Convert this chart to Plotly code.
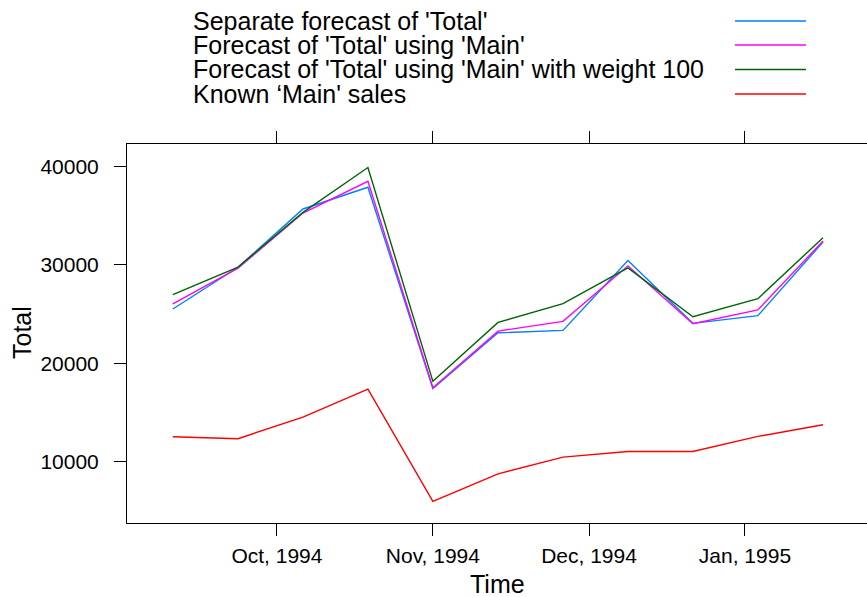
import plotly.graph_objects as go

# Time in decimal years (R ts style)
time = [1994.6944, 1994.7292, 1994.7639, 1994.7986, 1994.8333, 1994.8681,
        1994.9028, 1994.9375, 1994.9722, 1995.0069, 1995.0417]

separate = [25510, 29750, 35680, 37890, 17420, 23090, 23330, 30440, 24050, 24830, 32320]
using_main = [26020, 29660, 35270, 38500, 17500, 23260, 24250, 29900, 24010, 25410, 32420]
weight100 = [26970, 29770, 35340, 39900, 18150, 24150, 26050, 29690, 24720, 26560, 32760]
known_main = [12520, 12320, 14520, 17350, 5950, 8740, 10440, 11020, 11020, 12550, 13740]

series_names = ["Separate forecast of 'Total'",
                "Forecast of 'Total' using 'Main'",
                "Forecast of 'Total' using 'Main' with weight 100",
                "Known \u2018Main' sales"]
series_colors = ["#0080ff", "#ff00ff", "#006400", "#ff0000"]
series_values = [separate, using_main, weight100, known_main]

tick_vals = [1994.75, 1994.8333, 1994.9167, 1995.0]
tick_text = ["Oct, 1994", "Nov, 1994", "Dec, 1994", "Jan, 1995"]
y_tick_vals = [10000, 20000, 30000, 40000]
y_tick_text = ["10000", "20000", "30000", "40000"]

W, H = 867, 597
L, R, T, B = 127, 0, 144, 74
pw = W - L - R
ph = H - T - B

def px_x(x):
    return (x - L) / pw

def px_y(y):
    return (H - B - y) / ph

FONT = "Liberation Sans, Arial, sans-serif"

fig = go.Figure()
for name, col, vals in zip(series_names, series_colors, series_values):
    fig.add_trace(go.Scatter(x=time, y=vals, mode="lines", name=name,
                             line=dict(color=col, width=1.4), showlegend=False))

# Legend: text left, line key right (lattice style)
row_y = [21, 45, 69.5, 94]
for name, col, yy in zip(series_names, series_colors, row_y):
    fig.add_annotation(x=px_x(191), y=px_y(yy), xref="paper", yref="paper",
                       text=name, showarrow=False, xanchor="left", yanchor="middle",
                       font=dict(family=FONT, size=25, color="black"))
    fig.add_shape(type="line", xref="paper", yref="paper",
                  x0=px_x(735), x1=px_x(806), y0=px_y(yy), y1=px_y(yy),
                  line=dict(color=col, width=1.4))

# Axis titles
fig.add_annotation(x=px_x(497), y=px_y(584), xref="paper", yref="paper",
                   text="Time", showarrow=False, xanchor="center", yanchor="middle",
                   font=dict(family=FONT, size=25, color="black"))
fig.add_annotation(x=px_x(22), y=px_y(333), xref="paper", yref="paper",
                   text="Total", showarrow=False, xanchor="center", yanchor="middle",
                   textangle=-90,
                   font=dict(family=FONT, size=25, color="black"))

fig.update_layout(
    width=W, height=H,
    margin=dict(l=L, r=R, t=T, b=B, pad=0, autoexpand=False),
    paper_bgcolor="white", plot_bgcolor="white",
    font=dict(family=FONT, size=21, color="black"),
)
fig.update_xaxes(
    range=[1994.6699, 1995.0652],
    tickvals=tick_vals, ticktext=tick_text,
    ticks="outside", ticklen=12, tickwidth=1, tickcolor="black",
    showline=True, linecolor="black", linewidth=1, mirror="ticks",
    showgrid=False, zeroline=False, automargin=False,
    tickfont=dict(size=21),
    ticklabelstandoff=2,
)
fig.update_yaxes(
    range=[3745, 42290],
    tickvals=y_tick_vals, ticktext=y_tick_text,
    ticks="outside", ticklen=12, tickwidth=1, tickcolor="black",
    showline=True, linecolor="black", linewidth=1, mirror=False,
    showgrid=False, zeroline=False, automargin=False,
    tickfont=dict(size=21),
    ticklabelstandoff=11,
)

fig.write_html("out.html",
               config={"displayModeBar": False},
               post_script="document.body.style.margin='0px';document.body.style.overflow='hidden';")
